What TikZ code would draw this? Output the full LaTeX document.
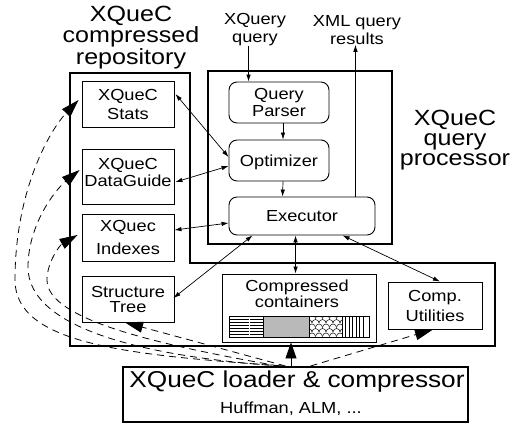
\documentclass[tikz,border=0pt]{standalone}
\usepackage{fontspec}
\setmainfont{Liberation Sans}[FakeStretch=1.14]
\usetikzlibrary{arrows.meta,calc}
\begin{document}
\begin{tikzpicture}[x=1pt,y=-1pt,
  box/.style={draw, line width=0.9pt, inner sep=0pt, align=center, font=\fontsize{16}{19}\selectfont},
  rbox/.style={box, rounded corners=8pt},
  heavy/.style={draw, line width=2.2pt},
  title/.style={align=center, font=\fontsize{22}{20}\selectfont, inner sep=0pt},
  lbl/.style={align=center, font=\fontsize{16}{18}\selectfont, inner sep=0pt},
  arr/.style={line width=0.7pt, -{Latex[length=7pt,width=4.5pt]}},
  darr/.style={line width=0.7pt, {Latex[length=7pt,width=4.5pt]}-{Latex[length=7pt,width=4.5pt]}},
  dashconn/.style={line width=0.8pt, dash pattern=on 7pt off 5pt, -{Triangle[length=18pt,width=11pt]}},
  bigarr/.style={line width=0.9pt, -{Triangle[length=16pt,width=11pt]}}
]
\useasboundingbox[fill=white] (0,0) rectangle (513,424);

% titles and labels
\node[title] (repotitle) at (131,37.5) {XQueC\\compressed\\repository};
\node[title] (proctitle) at (455,140.5) {XQueC\\query\\processor};
\node[lbl] (xq) at (255,30) {XQuery\\query};
\node[lbl] (xml) at (357,30) {XML query\\results};

% containers
\draw[heavy] (70,73) -- (190,73) -- (190,263) -- (495,263) -- (495,346) -- (70,346) -- cycle;
\node[heavy, minimum width=184pt, minimum height=173pt, inner sep=0pt] (proc) at (300,157.5) {};

% repository boxes
\node[box, minimum width=92pt, minimum height=46pt] (stats) at (128,104) {XQueC\\Stats};
\node[box, minimum width=92pt, minimum height=55pt, font=\fontsize{16}{17}\selectfont] (dataguide) at (128,176.5) {XQueC\\DataGuide\rule[-7.5pt]{0pt}{0pt}};
\node[box, minimum width=92pt, minimum height=47pt, font=\fontsize{16}{23}\selectfont] (indexes) at (128,237.5) {XQuec\\Indexes};
\node[box, minimum width=92pt, minimum height=46pt, font=\fontsize{16}{15}\selectfont] (tree) at (128,299) {Structure\\Tree};

% processor boxes
\node[rbox, minimum width=100pt, minimum height=41pt, font=\fontsize{16}{17}\selectfont] (parser) at (279,102.5) {Query\\Parser};
\node[rbox, minimum width=100pt, minimum height=41pt, text depth=0pt] (optim) at (279,160.5) {Optimizer};
\node[rbox, minimum width=146pt, minimum height=38pt, text depth=0pt] (exec) at (302,216) {Executor};

% compressed containers
\node[box, minimum width=154pt, minimum height=68pt] (cont) at (299,308) {};
\node[lbl, font=\fontsize{16}{16}\selectfont] (contlbl) at (297,294) {Compressed\\containers};
\begin{scope}[line width=0.5pt]
  \fill[gray!55] (263,316) rectangle (309,337);
  \foreach \yy in {319,322,...,334} \draw (229,\yy) -- (263,\yy);
  \draw[white, line width=0.8pt] (249,316) -- (249,337);
  \foreach \xx in {345.5,349,...,366} \draw (\xx,316) -- (\xx,337);
  \begin{scope}
    \clip (309,316) rectangle (342,337);
    \foreach \r in {0,...,5} {
      \foreach \c in {0,...,5} {
        \draw ({305+\c*7+mod(\r,2)*3.5},{314+\r*4.5}) arc[start angle=180,end angle=360,radius=3.5];
      }
    }
  \end{scope}
  \draw[line width=0.8pt] (229,316) rectangle (369,337);
  \draw (263,316) -- (263,337) (309,316) -- (309,337) (342,316) -- (342,337);
\end{scope}

\node[box, minimum width=94pt, minimum height=47pt, font=\fontsize{16}{20}\selectfont] (util) at (435,305.5) {Comp.\\Utilities};

% loader
\node[heavy, line width=2pt, minimum width=345pt, minimum height=55pt, inner sep=0pt] (loader) at (295.5,394.5) {};
\node[inner sep=0pt, font=\fontsize{23}{23}\selectfont] (loadtitle) at (297,382) {XQueC loader \& compressor};
\node[inner sep=0pt, font=\fontsize{16}{16}\selectfont] (loadsub) at (291,408.7) {Huffman, ALM, ...};

% solid connectors
\coordinate (pin) at ($(parser.north west)+(20,0)$);
\draw[arr] (pin |- xq.south) -- (pin);
\coordinate (pout) at ($(exec.north east)+(-20,0)$);
\draw[arr] (pout) -- (pout |- xml.south);
\draw[arr] ($(parser.south)+(4,0)$) -- ($(optim.north)+(4,0)$);
\draw[arr] ($(optim.south)+(4,0)$) -- ($(exec.north west)+(54,0)$);
\draw[darr] ($(stats.east)+(1,-10)$) -- ($(optim.west)+(0,-3.5)$);
\draw[darr] ($(dataguide.east)+(1,5.5)$) -- ($(optim.west)+(0,5.5)$);
\draw[darr] ($(indexes.east)+(0,-7.5)$) -- ($(exec.west)+(0,7)$);
\draw[darr] ($(tree.east)+(-1,-1)$) -- ($(exec.south west)+(24,0)$);
\draw[darr] ($(exec.south west)+(67,0)$) -- ($(cont.north west)+(74,0)$);
\draw[darr] ($(exec.south west)+(114,0)$) -- ($(util.north)+(5,0)$);
\draw[bigarr] ($(loader.north)+(-4.5,0)$) -- ($(cont.south)+(-8,0)$);

% dashed loader connectors
\draw[dashconn] ($(loader.north)+(15,0)$) -- ($(util.south)+(-2,0)$);
\draw[dashconn] ($(loader.north)+(-10,0)$) -- ($(tree.south)+(-3,0)$);
\draw[dashconn] ($(loader.north)+(-12,0)$) .. controls (130,355) and (15,345) .. (15,280)
   .. controls (15,190) and (50,130) .. ($(stats.west)+(-3,-4)$);
\draw[dashconn] ($(loader.north)+(-15,0)$) .. controls (150,357) and (28,330) .. (28,267)
   .. controls (28,225) and (55,190) .. ($(dataguide.west)+(-2,-6.5)$);
\draw[dashconn] ($(loader.north)+(-17,0)$) .. controls (160,345) and (47,320) .. (47,280)
   .. controls (47,262) and (60,245) .. ($(indexes.west)+(-4,-2.5)$);
\end{tikzpicture}
\end{document}
